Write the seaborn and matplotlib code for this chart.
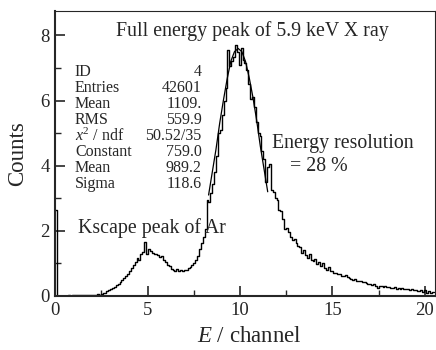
import numpy as np
import pandas as pd
import matplotlib
matplotlib.use("Agg")
import matplotlib.pyplot as plt
import seaborn as sns

# ---- data (counts / 100, channel / 100), 200 bins over 0..20.48 ----
counts = [
    2.65, 0.00, 0.00, 0.00, 0.00, 0.01, 0.01, 0.02, 0.01, 0.02,
    0.03, 0.02, 0.03, 0.02, 0.03, 0.02, 0.03, 0.04, 0.02, 0.03,
    0.04, 0.03, 0.05, 0.04, 0.06, 0.08, 0.10, 0.14, 0.17, 0.20,
    0.24, 0.28, 0.33, 0.36, 0.42, 0.48, 0.55, 0.62, 0.66, 0.78,
    0.85, 0.95, 1.05, 1.18, 1.12, 1.28, 1.35, 1.67, 1.30, 1.45,
    1.38, 1.32, 1.28, 1.30, 1.26, 1.20, 1.22, 1.10, 1.05, 0.95,
    0.92, 0.82, 0.80, 0.76, 0.82, 0.78, 0.80, 0.77, 0.79, 0.80,
    0.85, 0.88, 0.95, 1.02, 1.12, 1.22, 1.45, 1.62, 1.80, 2.05,
    2.95, 2.90, 3.15, 3.45, 3.80, 4.30, 5.00, 5.10, 5.55, 6.00,
    6.40, 7.55, 7.05, 7.20, 7.35, 7.70, 7.50, 7.10, 7.60, 7.25,
    7.15, 6.95, 6.50, 6.05, 6.10, 5.80, 5.35, 5.00, 4.90, 4.45,
    4.20, 3.50, 3.95, 4.05, 3.25, 3.20, 3.00, 2.95, 2.65, 2.60,
    2.35, 2.05, 2.10, 1.95, 1.80, 1.72, 1.75, 1.62, 1.55, 1.50,
    1.32, 1.40, 1.25, 1.18, 1.30, 1.12, 1.08, 1.15, 0.98, 1.05,
    0.92, 1.02, 0.85, 0.80, 0.88, 0.76, 0.78, 0.72, 0.70, 0.66,
    0.68, 0.62, 0.60, 0.63, 0.57, 0.55, 0.52, 0.50, 0.52, 0.47,
    0.45, 0.46, 0.42, 0.44, 0.40, 0.38, 0.37, 0.34, 0.36, 0.30,
    0.26, 0.32, 0.30, 0.28, 0.30, 0.27, 0.29, 0.26, 0.25, 0.27,
    0.23, 0.24, 0.22, 0.25, 0.21, 0.20, 0.22, 0.19, 0.20, 0.17,
    0.18, 0.16, 0.14, 0.17, 0.12, 0.18, 0.10, 0.14, 0.09, 0.11,
]
x_min, x_max = 0.0, 20.48

fit_x = [8.3, 8.5, 8.7, 8.9, 9.1, 9.3, 9.5, 9.7, 9.9, 10.1, 10.3, 10.5, 10.7, 10.9, 11.1, 11.3, 11.5]
fit_y = [3.1, 3.8, 4.5, 5.3, 6.0, 6.65, 7.2, 7.5, 7.6, 7.5, 7.2, 6.7, 6.1, 5.4, 4.6, 3.9, 3.2]

stat_names = ["ID", "Entries", "Mean", "RMS", "$x^{2}$ / ndf", "Constant", "Mean", "Sigma"]
stat_values = ["4", "42601", "1109.", "559.9", "50.52/35", "759.0", "989.2", "118.6"]

x_ticks = [0, 5, 10, 15, 20]
y_ticks = [0, 2, 4, 6, 8]

# ---- style ----
sns.set_style("ticks")
plt.rcParams["font.family"] = ["Liberation Serif", "DejaVu Serif"]
plt.rcParams["mathtext.fontset"] = "custom"
plt.rcParams["mathtext.rm"] = "Liberation Serif"
plt.rcParams["mathtext.it"] = "Liberation Serif:italic"

nbins = len(counts)
bw = (x_max - x_min) / nbins
centers = x_min + bw * (np.arange(nbins) + 0.5)
df = pd.DataFrame({"E": centers, "w": counts})
fit_df = pd.DataFrame({"E": fit_x, "y": fit_y})

fig = plt.figure(figsize=(4.36, 3.5), dpi=100)
ax = fig.add_axes([0.1266, 0.1543, 0.871, 0.8143])

sns.histplot(data=df, x="E", weights="w", bins=nbins, binrange=(x_min, x_max),
             element="step", fill=False, color="black", linewidth=1.0, ax=ax)
sns.lineplot(data=fit_df, x="E", y="y", color="black", linewidth=0.9, ax=ax)

ax.set_xlim(0, 20.55)
ax.set_ylim(0, 8.75)
ax.set_xticks(x_ticks)
ax.set_yticks(y_ticks)
ax.set_xticks([2.5, 7.5, 12.5, 17.5], minor=True)
ax.set_yticks([1, 3, 5, 7], minor=True)
ax.tick_params(axis="both", which="major", direction="in", length=7, width=1.2,
               labelsize=13.5, pad=4, top=False, right=False)
ax.tick_params(axis="both", which="minor", direction="in", length=4.5, width=1.0,
               top=False, right=False)

for s in ["left", "bottom"]:
    ax.spines[s].set_linewidth(1.5)
for s in ["top", "right"]:
    ax.spines[s].set_visible(True)
    ax.spines[s].set_linewidth(0.8)

ax.set_xlabel("$E$ / channel", fontsize=16.5)
ax.set_ylabel("Counts", fontsize=16.5)
ax.xaxis.set_label_coords(0.51, -0.105)
ax.yaxis.set_label_coords(-0.072, 0.5)

ax.text(10.66, 8.14, "Full energy peak of 5.9 keV X ray", fontsize=14.3,
        ha="center", va="center")
ax.text(11.72, 4.69, "Energy resolution", fontsize=14.3, ha="left", va="center")
ax.text(12.69, 3.97, "= 28 %", fontsize=14.3, ha="left", va="center")
ax.text(1.23, 2.1, "Kscape peak of Ar", fontsize=14.3, ha="left", va="center")

y0, dy = 0.787, 0.0563
for i, (n, v) in enumerate(zip(stat_names, stat_values)):
    yy = y0 - i * dy
    ax.text(0.052, yy, n, fontsize=11.5, ha="left", va="center", transform=ax.transAxes)
    ax.text(0.3855, yy, v, fontsize=11.5, ha="right", va="center", transform=ax.transAxes)

fig.savefig("out.png", dpi=100)
